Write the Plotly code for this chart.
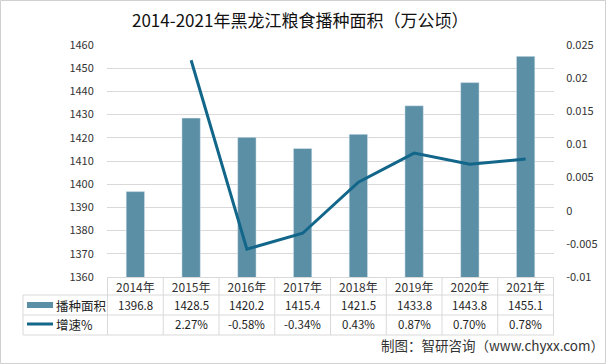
import plotly.graph_objects as go

years = ["2014年", "2015年", "2016年", "2017年", "2018年", "2019年", "2020年", "2021年"]
area = [1396.8, 1428.5, 1420.2, 1415.4, 1421.5, 1433.8, 1443.8, 1455.1]
growth = [None, 0.0227, -0.0058, -0.0034, 0.0043, 0.0087, 0.0070, 0.0078]
growth_text = ["", "2.27%", "-0.58%", "-0.34%", "0.43%", "0.87%", "0.70%", "0.78%"]
left_ticks = [1360, 1370, 1380, 1390, 1400, 1410, 1420, 1430, 1440, 1450, 1460]
right_ticks = [-0.01, -0.005, 0, 0.005, 0.01, 0.015, 0.02, 0.025]
right_tick_text = ["-0.01", "-0.005", "0", "0.005", "0.01", "0.015", "0.02", "0.025"]
title = "2014-2021年黑龙江粮食播种面积（万公顷）"
series_names = ["播种面积", "增速%"]
source = "制图：智研咨询（www.chyxx.com）"

W, H = 606, 364
L, R, T, B = 107, 554, 45, 277
BAR_C = "#5b8fa6"
LINE_C = "#12668a"
FONT = "Noto Sans CJK SC, Liberation Sans, sans-serif"
GRID = "#d9d9d9"


def px(x):
    return (x - L) / (R - L)


def py(y):
    return (B - y) / (B - T)


fig = go.Figure()
fig.add_trace(go.Bar(x=years, y=area, name=series_names[0], marker_color=BAR_C,
                     width=0.33, yaxis="y"))
fig.add_trace(go.Scatter(x=years, y=growth, name=series_names[1], mode="lines",
                         line=dict(color=LINE_C, width=3), yaxis="y2",
                         connectgaps=False))

shapes = []
for yy in [295, 315, 335]:
    shapes.append(dict(type="line", xref="paper", yref="paper", x0=px(23), x1=px(R),
                       y0=py(yy), y1=py(yy), line=dict(color=GRID, width=1)))
for i in range(len(years) + 1):
    shapes.append(dict(type="line", xref="x", yref="paper", x0=i - 0.5, x1=i - 0.5,
                       y0=py(277), y1=py(335), line=dict(color=GRID, width=1)))
shapes.append(dict(type="line", xref="paper", yref="paper", x0=px(23), x1=px(23),
                   y0=py(295), y1=py(335), line=dict(color=GRID, width=1)))
shapes.append(dict(type="rect", xref="paper", yref="paper", x0=px(27), x1=px(53),
                   y0=py(308), y1=py(302), fillcolor=BAR_C, line=dict(width=0)))
shapes.append(dict(type="line", xref="paper", yref="paper", x0=px(27), x1=px(53),
                   y0=py(324), y1=py(324), line=dict(color=LINE_C, width=3)))
shapes.append(dict(type="rect", xref="paper", yref="paper", x0=px(0.5), x1=px(605.5),
                   y0=py(363.5), y1=py(0.5), line=dict(color="#d0d0d0", width=1)))


def ann(x, y, text, xref="paper", xanchor="center", size=12, color="#222"):
    return dict(x=x, y=y, xref=xref, yref="paper", text=text, xanchor=xanchor,
                yanchor="middle", showarrow=False,
                font=dict(size=size, color=color, family=FONT))


annotations = []
for i, v in enumerate(area):
    annotations.append(ann(years[i], py(305), f"{v:.1f}", xref="x", size=11.5))
for i, t in enumerate(growth_text):
    if t:
        annotations.append(ann(years[i], py(324), t, xref="x", size=11.5))
annotations.append(ann(px(54), py(305), series_names[0], xanchor="left", size=12.5))
annotations.append(ann(px(54), py(324), series_names[1], xanchor="left", size=12.5))
annotations.append(ann(px(606), py(345), source, xanchor="right", size=13.5, color="#333"))
annotations.append(ann(px(300), py(20), title, size=17, color="#111"))

fig.update_layout(
    width=W, height=H,
    margin=dict(l=L, r=W - R, t=T, b=H - B, autoexpand=False),
    paper_bgcolor="white", plot_bgcolor="white",
    showlegend=False,
    font=dict(family=FONT, size=11, color="#333"),
    xaxis=dict(type="category", showgrid=False, showline=True, linecolor=GRID,
               ticks="", tickfont=dict(size=12, color="#333"), fixedrange=True,
               automargin=False),
    yaxis=dict(range=[1360, 1460], tickvals=left_ticks, showgrid=True, gridcolor=GRID,
               zeroline=False, ticks="outside", ticklen=10, tickcolor="rgba(0,0,0,0)",
               tickfont=dict(size=11, color="#333"), automargin=False),
    yaxis2=dict(range=[-0.01, 0.025], tickvals=right_ticks, ticktext=right_tick_text,
                overlaying="y", side="right", showgrid=False, zeroline=False,
                ticks="outside", ticklen=9, tickcolor="rgba(0,0,0,0)",
                tickfont=dict(size=11, color="#333"), automargin=False),
    shapes=shapes,
    annotations=annotations,
)

fig.write_html("out.html", config={"displayModeBar": False},
               post_script="document.body.style.margin='0';")
